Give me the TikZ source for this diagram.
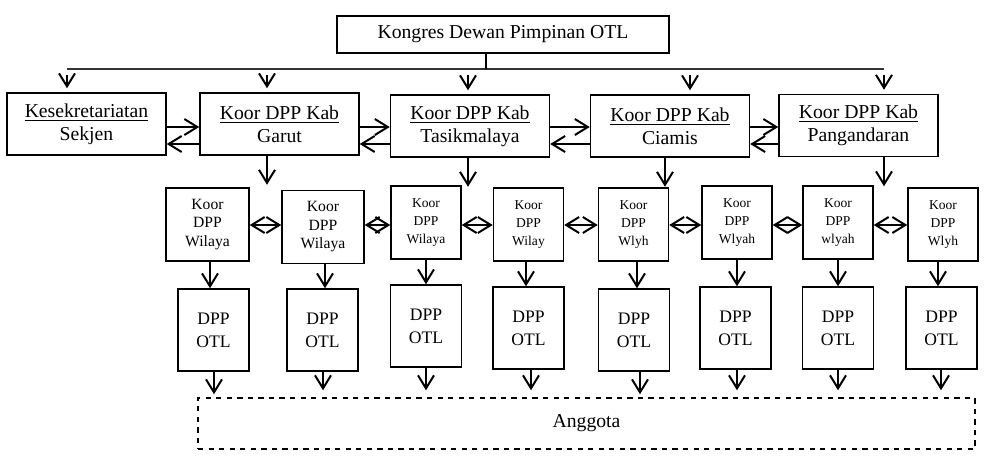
\documentclass[tikz,border=0pt]{standalone}
\usepackage{fontspec}
\setmainfont{Liberation Serif}
\usepackage{tikz}
\usetikzlibrary{arrows.meta,calc,positioning}

\begin{document}
\begin{tikzpicture}[>={Straight Barb[length=2.6mm,width=3.2mm]},x=0.2mm,y=-0.2mm,
  box/.style={draw,line width=0.3mm,inner sep=0pt,align=center},
  kab/.style={box,minimum width=31.8mm,minimum height=12.4mm,font=\fontsize{11.2}{13}\selectfont},
  wil/.style={box,minimum width=14mm,minimum height=14.6mm,font=\fontsize{7.7}{10.5}\selectfont},
  otl/.style={box,minimum width=14.2mm,minimum height=16.4mm,font=\fontsize{10}{13}\selectfont},
  arr/.style={->,line width=0.4mm}]
\useasboundingbox (0,0) rectangle (988,456);
% kongres
\node[box,minimum width=66.4mm,minimum height=7.4mm,font=\fontsize{11.2}{13}\selectfont] (kongres) at (503,34.5) {Kongres Dewan Pimpinan OTL};
\coordinate (busL) at (67,69);
\coordinate (busM) at (486,69);
\coordinate (busR) at (884,69);
\draw[line width=0.4mm,black!80] (busL) -- (busR);
\draw[line width=0.3mm] (kongres.south -| busM) -- (busM);
% kabupaten
\node[kab] (sek) at (86.5,124) {\underline{Kesekretariatan}\\Sekjen};
\node[kab] (garut) at (279.5,124) {\underline{Koor DPP Kab}\\Garut};
\node[kab] (tasik) at (470,126) {\underline{Koor DPP Kab}\\Tasikmalaya};
\node[kab] (ciamis) at (670,126) {\underline{Koor DPP Kab}\\Ciamis};
\node[kab] (pangan) at (858.5,125.5) {\underline{Koor DPP Kab}\\Pangandaran};
\draw[arr,shorten <=1.2mm,shorten >=0.8mm] (busL) -- (busL |- sek.north);
\draw[arr,shorten <=1.2mm,shorten >=0.8mm] (busL -| 267,0) -- (garut.north -| 267,0);
\draw[arr,shorten <=1.2mm,shorten >=0.8mm] (busL -| 468,0) -- (tasik.north -| 468,0);
\draw[arr,shorten <=1.2mm,shorten >=0.8mm] (busL -| 690,0) -- (ciamis.north -| 690,0);
\draw[arr,shorten <=1.2mm,shorten >=0.8mm] (busR) -- (busR |- pangan.north);
\draw[arr] (sek.east |- 0,127) -- (garut.west |- 0,127);
\draw[arr] (garut.west |- 0,144) -- (sek.east |- 0,144);
\draw[arr] (garut.east |- 0,127) -- (tasik.west |- 0,127);
\draw[arr] (tasik.west |- 0,144) -- (garut.east |- 0,144);
\draw[arr] (tasik.east |- 0,127) -- (ciamis.west |- 0,127);
\draw[arr] (ciamis.west |- 0,144) -- (tasik.east |- 0,144);
\draw[arr] (ciamis.east |- 0,127) -- (pangan.west |- 0,127);
\draw[arr] (pangan.west |- 0,144) -- (ciamis.east |- 0,144);
% wilayah
\node[wil,minimum width=16.6mm,font=\fontsize{8.9}{10.5}\selectfont] (w1) at (207.5,224.5) {Koor\\DPP\\Wilaya};
\node[wil,minimum width=16.4mm,font=\fontsize{8.9}{10.5}\selectfont] (w2) at (323,227) {Koor\\DPP\\Wilaya};
\node[wil] (w3) at (426,222.5) {Koor\\DPP\\Wilaya};
\node[wil] (w4) at (528.5,224.5) {Koor\\DPP\\Wilay};
\node[wil] (w5) at (633.5,224.5) {Koor\\DPP\\Wlyh};
\node[wil] (w6) at (737,222.5) {Koor\\DPP\\Wlyah};
\node[wil] (w7) at (838,222.5) {Koor\\DPP\\wlyah};
\node[wil] (w8) at (943,224.5) {Koor\\DPP\\Wlyh};
\draw[arr] (garut.south -| 267,0) -- ++(0,29);
\draw[arr] (tasik.south -| 468,0) -- ++(0,29);
\draw[arr] (ciamis.south -| 665,0) -- ++(0,29);
\draw[arr] (pangan.south -| 884,0) -- ++(0,29);
\draw[arr,<->] (w1.east |- 0,225) -- (w2.west |- 0,225);
\draw[arr,<->] (w2.east |- 0,225) -- (w3.west |- 0,225);
\draw[arr,<->] (w3.east |- 0,225) -- (w4.west |- 0,225);
\draw[arr,<->] (w4.east |- 0,225) -- (w5.west |- 0,225);
\draw[arr,<->] (w5.east |- 0,225) -- (w6.west |- 0,225);
\draw[arr,<->] (w6.east |- 0,225) -- (w7.west |- 0,225);
\draw[arr,<->] (w7.east |- 0,225) -- (w8.west |- 0,225);
% dpp otl
\node[otl] (d1) at (213.5,330) {DPP\\OTL};
\node[otl] (d2) at (322.5,330) {DPP\\OTL};
\node[otl] (d3) at (426,326) {DPP\\OTL};
\node[otl] (d4) at (528.5,328) {DPP\\OTL};
\node[otl] (d5) at (634,330) {DPP\\OTL};
\node[otl] (d6) at (735.5,328) {DPP\\OTL};
\node[otl] (d7) at (838,328) {DPP\\OTL};
\node[otl] (d8) at (941.5,328) {DPP\\OTL};
\draw[arr] (w1.south -| 210,0) -- (d1.north -| 210,0);
\draw[arr] (w2.south -| 325,0) -- (d2.north -| 325,0);
\draw[arr] (w3.south -| 426,0) -- (d3.north -| 426,0);
\draw[arr] (w4.south -| 526,0) -- (d4.north -| 526,0);
\draw[arr] (w5.south -| 637,0) -- (d5.north -| 637,0);
\draw[arr] (w6.south -| 737,0) -- (d6.north -| 737,0);
\draw[arr] (w7.south -| 838,0) -- (d7.north -| 838,0);
\draw[arr] (w8.south -| 938,0) -- (d8.north -| 938,0);
% anggota
\node[box,dashed,minimum width=155.4mm,minimum height=10.2mm,font=\fontsize{11.2}{13}\selectfont] (anggota) at (586.5,423.5) {Anggota};
\draw[arr,shorten >=0.6mm] (d1.south -| 214,0) -- (anggota.north -| 214,0);
\draw[arr,shorten >=1.4mm] (d2.south -| 323,0) -- (anggota.north -| 323,0);
\draw[arr,shorten >=1.4mm] (d3.south -| 426,0) -- (anggota.north -| 426,0);
\draw[arr,shorten >=1.4mm] (d4.south -| 531,0) -- (anggota.north -| 531,0);
\draw[arr,shorten >=0.6mm] (d5.south -| 640,0) -- (anggota.north -| 640,0);
\draw[arr,shorten >=1.4mm] (d6.south -| 737,0) -- (anggota.north -| 737,0);
\draw[arr,shorten >=1.4mm] (d7.south -| 838,0) -- (anggota.north -| 838,0);
\draw[arr,shorten >=1.4mm] (d8.south -| 941,0) -- (anggota.north -| 941,0);
\end{tikzpicture}
\end{document}
